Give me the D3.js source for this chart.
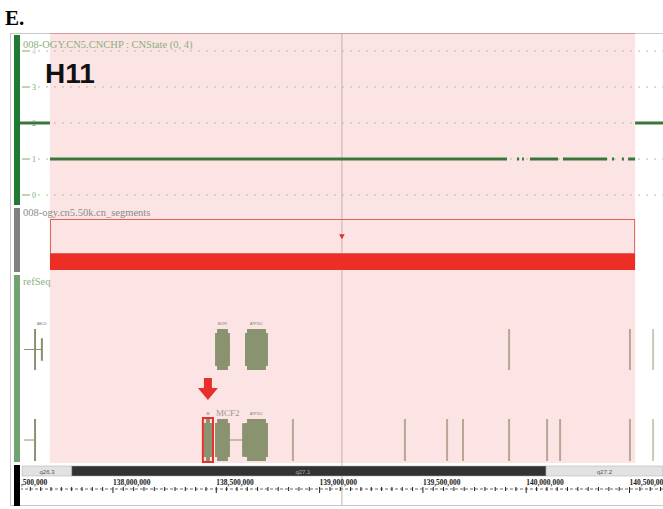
<!DOCTYPE html>
<html>
<head>
<meta charset="utf-8">
<script src="https://cdn.jsdelivr.net/npm/d3@7"></script>
<style>
  body { margin: 0; background: #fff; }
  svg { display: block; }
</style>
</head>
<body>
<div id="viz"></div>
<script>
// chrX window shown in the browser (bp)
const viewRange = [137550000, 140662000];
const highlight = [137695000, 140527000];
const cursorPos = 139108000;

// copy number track: ticks and segments [start, end, state]
const cnTicks = [0, 1, 2, 3, 4];
const cnSegments = [
  [137550000, 137695000, 2],
  [137695000, 139907000, 1],
  [139955000, 139965000, 1],
  [139980000, 139989000, 1],
  [140018000, 140154000, 1],
  [140178000, 140391000, 1],
  [140415000, 140425000, 1],
  [140463000, 140473000, 1],
  [140493000, 140527000, 1],
  [140527000, 140662000, 2]
];

// 50k cn segment
const cnBlock = [137695000, 140527000];

// refSeq genes: row, start, end, exons [start, end, relative height], label
const genes = [
  { row: 0, start: 137569000, end: 137661000, exons: [[137618000, 137627000, 1], [137651000, 137661000, 0.55]], label: "ABCD" },
  { row: 0, start: 138494000, end: 138566000, exons: [[138494000, 138566000, 1]], label: "MCF2" },
  { row: 0, start: 138639000, end: 138750000, exons: [[138639000, 138750000, 1]], label: "ATP11C" },
  { row: 1, start: 137569000, end: 137627000, exons: [[137618000, 137627000, 1]], label: "" },
  { row: 1, start: 138440000, end: 138479000, exons: [[138440000, 138479000, 1]], label: "M" },
  { row: 1, start: 138494000, end: 138750000, exons: [[138494000, 138566000, 1], [138625000, 138639000, 0.8], [138639000, 138750000, 1]], label: "ATP11C" }
];
const thinGenes0 = [139917000, 140502000, 140614000];
const thinGenes1 = [138871000, 139413000, 139617000, 139694000, 139917000, 140101000, 140164000, 140502000, 140614000];
const markedGene = [138440000, 138479000];

// cytobands
const bands = [
  { name: "q26.3", start: 137560000, end: 137801000, dark: false },
  { name: "q27.1", start: 137801000, end: 140096000, dark: true },
  { name: "q27.2", start: 140096000, end: 140662000, dark: false }
];
const axisTicks = [137500000, 138000000, 138500000, 139000000, 139500000, 140000000, 140500000];

var width = 663, height = 509;
var svg = d3.select("#viz").append("svg").attr("width", width).attr("height", height);

var x = d3.scaleLinear().domain(viewRange).range([20, 663]);

// "E." panel letter
svg.append("text").attr("x", 5).attr("y", 25)
  .style("font-family", "Liberation Serif").style("font-weight", "bold").style("font-size", "21px")
  .text("E.");

// frame
svg.append("rect").attr("x", 10.5).attr("y", 33.5).attr("width", 660).attr("height", 472)
  .attr("fill", "#fff").attr("stroke", "#c8c8c8");

// highlight region
svg.append("rect")
  .attr("x", x(highlight[0])).attr("y", 33)
  .attr("width", x(highlight[1]) - x(highlight[0])).attr("height", 430)
  .attr("fill", "#fce4e4");
svg.append("line").attr("x1", x(highlight[0])).attr("x2", x(highlight[1]))
  .attr("y1", 33.5).attr("y2", 33.5).attr("stroke", "#c9a0a0");

// cursor line
svg.append("line").attr("x1", x(cursorPos)).attr("x2", x(cursorPos))
  .attr("y1", 34).attr("y2", 505).attr("stroke", "#c9b0b0").attr("stroke-width", 1);

// left track bars
var bars = [[35, 205, "#1f7a33"], [208, 272, "#808080"], [275, 462, "#6fa36f"], [465, 506, "#000"]];
svg.selectAll(".lbar").data(bars).enter().append("rect")
  .attr("x", 14).attr("width", 6)
  .attr("y", d => d[0]).attr("height", d => d[1] - d[0])
  .attr("fill", d => d[2]);

// ---- CN track
var yCN = d3.scaleLinear().domain([0, 4]).range([195, 51]);
var cn = svg.append("g");
cn.selectAll(".grid").data(cnTicks).enter().append("line")
  .attr("x1", 38).attr("x2", 663)
  .attr("y1", d => yCN(d)).attr("y2", d => yCN(d))
  .attr("stroke", "#b5bda6").attr("stroke-width", 1).attr("stroke-dasharray", "2,6");
cn.selectAll(".tk").data(cnTicks).enter().append("line")
  .attr("x1", 22).attr("x2", 30)
  .attr("y1", d => yCN(d)).attr("y2", d => yCN(d))
  .attr("stroke", "#7aa870").attr("stroke-width", 1);
cn.selectAll(".tl").data(cnTicks).enter().append("text")
  .attr("x", 32).attr("y", d => yCN(d) + 3)
  .style("font-family", "Liberation Serif").style("font-size", "8px").attr("fill", "#7aa870")
  .attr("opacity", d => d === 4 ? 0.5 : 1)
  .text(d => d);
cn.selectAll(".seg").data(cnSegments).enter().append("line")
  .attr("x1", d => x(d[0])).attr("x2", d => x(d[1]))
  .attr("y1", d => yCN(d[2])).attr("y2", d => yCN(d[2]))
  .attr("stroke", "#3a763a").attr("stroke-width", 3);
cn.append("text").attr("x", 23).attr("y", 48)
  .style("font-family", "Liberation Serif").style("font-size", "10.5px").attr("fill", "#8ab07a")
  .text("008-OGY.CN5.CNCHP : CNState (0, 4)");
svg.append("text").attr("x", 45).attr("y", 83)
  .style("font-family", "Liberation Sans").style("font-weight", "bold").style("font-size", "28px")
  .attr("fill", "#111").text("H11");

// ---- segment track
var seg = svg.append("g");
seg.append("text").attr("x", 23).attr("y", 216)
  .style("font-family", "Liberation Serif").style("font-size", "10.5px").attr("fill", "#8a8a8a")
  .text("008-ogy.cn5.50k.cn_segments");
seg.append("rect").attr("x", x(cnBlock[0]) + 0.5).attr("y", 219.5)
  .attr("width", x(cnBlock[1]) - x(cnBlock[0]) - 1).attr("height", 34)
  .attr("fill", "none").attr("stroke", "#e0605a");
seg.append("rect").attr("x", x(cnBlock[0])).attr("y", 254)
  .attr("width", x(cnBlock[1]) - x(cnBlock[0])).attr("height", 16)
  .attr("fill", "#ec2e24");
seg.append("path")
  .attr("d", d3.symbol().type(d3.symbolTriangle).size(14))
  .attr("transform", "translate(" + x(cursorPos) + ",236) rotate(180)")
  .attr("fill", "#e0302a");

// ---- refSeq track
var ref = svg.append("g");
ref.append("text").attr("x", 23).attr("y", 285)
  .style("font-family", "Liberation Serif").style("font-size", "10.5px").attr("fill", "#8ab07a")
  .text("refSeq");
var rowY = [[329, 370], [419, 461]];
var geneCol = "#8a9370";
genes.forEach(function (g) {
  var y0 = rowY[g.row][0], y1 = rowY[g.row][1], ym = (y0 + y1) / 2;
  ref.append("line").attr("x1", x(g.start)).attr("x2", x(g.end))
    .attr("y1", ym).attr("y2", ym).attr("stroke", geneCol).attr("stroke-width", 1);
  g.exons.forEach(function (e) {
    var h = (y1 - y0) * e[2];
    var w = x(e[1]) - x(e[0]);
    if (w > 8) {
      ref.append("rect").attr("x", x(e[0])).attr("y", ym - h / 2 + 4)
        .attr("width", w).attr("height", h - 8).attr("fill", geneCol);
      ref.append("rect").attr("x", x(e[0]) + 2).attr("y", ym - h / 2)
        .attr("width", w - 4).attr("height", h).attr("fill", geneCol);
    } else {
      ref.append("rect").attr("x", x(e[0])).attr("y", ym - h / 2)
        .attr("width", Math.max(w, 2)).attr("height", h).attr("fill", geneCol);
    }
  });
  if (g.label) {
    var last = g.exons[g.exons.length - 1];
    ref.append("text").attr("x", (x(last[0]) + x(g.end)) / 2).attr("y", y0 - 4)
      .attr("text-anchor", "middle")
      .style("font-family", "Liberation Sans").style("font-size", "3.5px").attr("fill", "#777")
      .text(g.label);
  }
});
[[thinGenes0, 0], [thinGenes1, 1]].forEach(function (r) {
  ref.selectAll(null).data(r[0]).enter().append("line")
    .attr("x1", d => x(d)).attr("x2", d => x(d))
    .attr("y1", rowY[r[1]][0]).attr("y2", rowY[r[1]][1])
    .attr("stroke", d => d > highlight[1] + 50000 ? "#c9c9b8" : "#b8a696").attr("stroke-width", 2);
});
// marked gene box + arrow
ref.append("rect").attr("x", x(markedGene[0]) - 1).attr("y", 418)
  .attr("width", x(markedGene[1]) - x(markedGene[0]) + 2).attr("height", 44)
  .attr("fill", "none").attr("stroke", "#e8302a").attr("stroke-width", 2);
var ax = (x(markedGene[0]) + x(markedGene[1])) / 2;
ref.append("path")
  .attr("d", "M" + (ax - 4) + ",378 h8 v10 h6 l-10,12 l-10,-12 h6 z")
  .attr("fill", "#e8302a");
ref.append("text").attr("x", x(138494000) + 1).attr("y", 416)
  .style("font-family", "Liberation Serif").style("font-size", "9px").attr("fill", "#999")
  .text("MCF2");

// ---- cytoband ideogram
var cyto = svg.append("g");
cyto.selectAll("rect").data(bands).enter().append("rect")
  .attr("x", d => x(d.start)).attr("y", 466)
  .attr("width", d => x(d.end) - x(d.start)).attr("height", 10)
  .attr("fill", d => d.dark ? "#333" : "#e2e2e2")
  .attr("stroke", "#aaa").attr("stroke-width", 0.5);
cyto.selectAll("text").data(bands).enter().append("text")
  .attr("x", d => (x(d.start) + x(d.end)) / 2 + (d.dark ? -6 : 0)).attr("y", 474)
  .attr("text-anchor", "middle")
  .style("font-family", "Liberation Sans").style("font-size", "6px")
  .attr("fill", d => d.dark ? "#aaa" : "#555")
  .text(d => d.name);

// ---- coordinate ruler
svg.append("clipPath").attr("id", "rclip").append("rect")
  .attr("x", 21).attr("y", 476).attr("width", 642).attr("height", 30);
var ruler = svg.append("g").attr("clip-path", "url(#rclip)");
var minor = d3.range(137500000, 140700001, 50000);
ruler.append("line").attr("x1", 20).attr("x2", 663).attr("y1", 489).attr("y2", 489)
  .attr("stroke", "#444").attr("stroke-width", 0.8).attr("stroke-dasharray", "3,2");
ruler.selectAll(".mt").data(minor).enter().append("line")
  .attr("x1", d => x(d)).attr("x2", d => x(d))
  .attr("y1", 487).attr("y2", d => d % 500000 === 0 ? 493 : 491)
  .attr("stroke", "#222").attr("stroke-width", 1);
ruler.selectAll(".ml").data(axisTicks).enter().append("text")
  .attr("x", d => x(d)).attr("y", 485)
  .style("font-family", "Liberation Serif").style("font-weight", "bold").style("font-size", "7.5px")
  .attr("fill", "#222")
  .text(d => d3.format(",")(d));
</script>
</body>
</html>
